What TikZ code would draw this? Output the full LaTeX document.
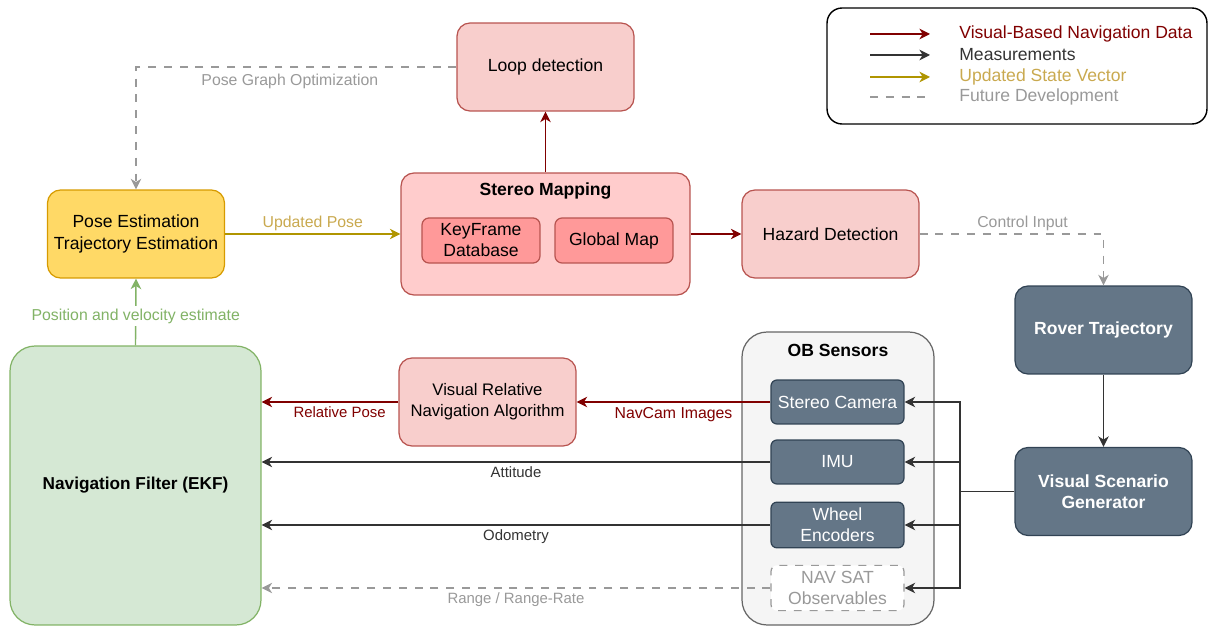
\documentclass[tikz,border=0pt]{standalone}
\usepackage{fontspec}
\setmainfont{Liberation Sans}
\usetikzlibrary{arrows.meta}

\definecolor{vbnred}{HTML}{800000}
\definecolor{measgray}{HTML}{333333}
\definecolor{updgold}{HTML}{B09500}
\definecolor{updtext}{HTML}{C9A94F}
\definecolor{futgray}{HTML}{999999}
\definecolor{estgreen}{HTML}{82B366}
\definecolor{pinkfill}{HTML}{F8CECC}
\definecolor{pinkline}{HTML}{B85450}
\definecolor{mapfill}{HTML}{FFCCCC}
\definecolor{subfill}{HTML}{FF9999}
\definecolor{posefill}{HTML}{FFD966}
\definecolor{poseline}{HTML}{D79B00}
\definecolor{navfill}{HTML}{D5E8D4}
\definecolor{obfill}{HTML}{F5F5F5}
\definecolor{obline}{HTML}{666666}
\definecolor{sensfill}{HTML}{647687}
\definecolor{sensline}{HTML}{314354}

\tikzset{
  blk/.style={draw, rounded corners=0.26cm, align=center, line width=0.7pt,
    font=\fontsize{10}{12}\selectfont, minimum width=3.54cm, minimum height=1.76cm},
  redblk/.style={blk, fill=pinkfill, draw=pinkline},
  subblk/.style={blk, fill=subfill, draw=pinkline, rounded corners=0.14cm,
    minimum width=2.36cm, minimum height=0.9cm},
  sensblk/.style={blk, fill=sensfill, draw=sensline, text=white, rounded corners=0.12cm,
    minimum width=2.66cm, minimum height=0.88cm},
  simblk/.style={blk, fill=sensfill, draw=sensline, text=white,
    font=\fontsize{10}{12}\selectfont\bfseries},
  title/.style={font=\fontsize{10}{12}\selectfont\bfseries},
  tip/.style={-{Stealth[length=6pt,width=6pt,inset=1.8pt]}},
  vbn/.style={draw=vbnred, line width=0.8pt, tip},
  meas/.style={draw=measgray, line width=0.8pt, tip},
  upd/.style={draw=updgold, line width=0.8pt, tip},
  est/.style={draw=estgreen, line width=0.8pt, tip},
  futline/.style={draw=futgray, line width=0.8pt, dash pattern=on 4.5pt off 4.5pt},
  fut/.style={futline, tip},
  lbl/.style={font=\fontsize{9}{11}\selectfont, inner sep=1.5pt},
  smlbl/.style={font=\fontsize{8.5}{10}\selectfont, inner sep=2.5pt}
}

\begin{document}
\begin{tikzpicture}[x=0.02cm,y=-0.02cm]
    \useasboundingbox (0,0) rectangle (1208,628);
    % Legend
    \node[draw, rounded corners=0.3cm, line width=0.8pt, minimum width=7.6cm,
      minimum height=2.32cm] (legend) at (1017,66) {};
    \foreach \i/\y/\sty/\col/\txt in {1/34/vbn/vbnred/Visual-Based Navigation Data,
        2/55/meas/measgray/Measurements, 3/77/upd/updtext/Updated State Vector,
        4/97/futline/futgray/Future Development} {
      \coordinate (ls\i) at (870,\y);
      \coordinate (le\i) at (930,\y);
      \draw[\sty] (ls\i) -- (le\i);
      \node[anchor=west, inner sep=0pt, text=\col, font=\fontsize{10}{12}\selectfont] (lt\i) at (959,\y) {\txt};
    }
    % Blocks
    \node[redblk] (loop) at (545.5,67) {Loop detection};
    \node[blk, fill=mapfill, draw=pinkline, minimum width=5.78cm, minimum height=2.44cm] (map) at (545.5,234) {};
    \node[title] (maptitle) at (545.5,191) {Stereo Mapping};
    \node[subblk] (kf) at (481,240.5) {KeyFrame\\Database};
    \node[subblk] (gmap) at (614,240.5) {Global Map};
    \node[redblk] (hazard) at (830.5,234) {Hazard Detection};
    \node[blk, fill=posefill, draw=poseline] (pose) at (136,234) {Pose Estimation\\Trajectory Estimation};
    \node[blk, fill=navfill, draw=estgreen, rounded corners=0.5cm, minimum width=5.02cm,
      minimum height=5.58cm, font=\fontsize{9.8}{12}\selectfont\bfseries] (nav) at (135.5,485.5) {Navigation Filter (EKF)};
    \node[redblk, font=\fontsize{9.5}{12}\selectfont] (vrna) at (487.5,402) {Visual Relative\\Navigation Algorithm};
    \node[blk, fill=obfill, draw=obline, rounded corners=0.5cm, minimum width=3.84cm,
      minimum height=5.86cm] (ob) at (838,478.5) {};
    \node[title] (obtitle) at (838,350) {OB Sensors};
    \node[sensblk] (cam) at (837.5,402) {Stereo Camera};
    \node[sensblk] (imu) at (837.5,462) {IMU};
    \node[sensblk] (wheel) at (837.5,525) {Wheel\\Encoders};
    \node[sensblk, fill=white, draw=futgray, dash pattern=on 4.5pt off 4.5pt, text=futgray] (navsat) at (837.5,588) {NAV SAT\\Observables};
    \node[simblk] (rover) at (1103.5,330) {Rover Trajectory};
    \node[simblk] (vsg) at (1103.5,491.5) {Visual Scenario\\Generator};
    % Mapping loop
    \draw[fut] (loop.west) -| node[lbl, pos=0.26, below, yshift=-2pt, text=futgray] {Pose Graph Optimization} (pose.north);
    \draw[vbn] (map.north) -- (loop.south);
    \draw[upd] (pose.east) -- node[lbl, above, text=updtext] {Updated Pose} (map.west);
    \draw[vbn] (map.east) -- (hazard.west);
    \draw[fut] (hazard.east) -| node[lbl, pos=0.28, above, text=futgray] {Control Input} (rover.north);
    % Simulator to sensors
    \draw[meas] (rover.south) -- (vsg.north);
    \coordinate (bus) at (960,491.5);
    \draw[draw=measgray, line width=0.8pt] (vsg.west) -- (bus);
    \foreach \s in {cam,imu,wheel,navsat}
      \draw[meas] (bus) |- (\s.east);
    % Sensors to filter
    \draw[vbn] (cam.west) -- node[lbl, below, yshift=-1pt, text=vbnred] {NavCam Images} (vrna.east);
    \draw[vbn] (vrna.west) -- node[smlbl, below, pos=0.43, text=vbnred] {Relative Pose} (vrna.west -| nav.east);
    \draw[meas] (imu.west) -- node[smlbl, below, text=measgray] {Attitude} (imu.west -| nav.east);
    \draw[meas] (wheel.west) -- node[smlbl, below, text=measgray] {Odometry} (wheel.west -| nav.east);
    \draw[fut] (navsat.west) -- node[smlbl, below, text=futgray] {Range / Range-Rate} (navsat.west -| nav.east);
    \draw[est] (nav.north) -- node[lbl, pos=0.44, fill=white, text=estgreen] {Position and velocity estimate} (pose.south);
\end{tikzpicture}
\end{document}
